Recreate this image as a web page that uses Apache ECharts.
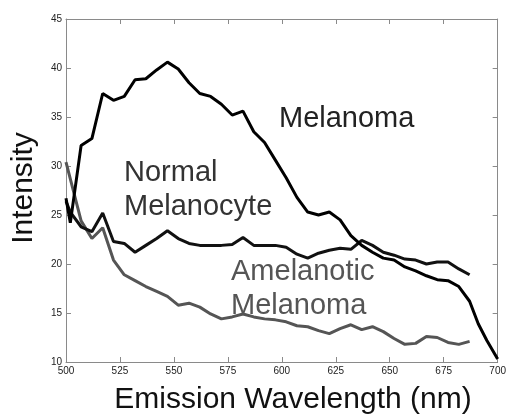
<!DOCTYPE html>
<html>
<head>
<meta charset="utf-8">
<script src="https://cdn.jsdelivr.net/npm/echarts@6/dist/echarts.min.js"></script>
<style>html,body{margin:0;padding:0;background:#fff;}#c{width:509px;height:414px;}</style>
</head>
<body>
<div id="c"></div>
<script>
// Data
const melanomaWl = [500,502,507,512,517,522,527,532,537,542,547,552,557,562,567,572,577,582,587,592,597,602,607,612,617,622,627,632,637,642,647,652,657,662,667,672,677,682,687,691,695,700];
const melanomaVals = [26.7,24.2,32.1,32.8,37.4,36.7,37.1,38.8,38.9,39.8,40.6,39.9,38.5,37.4,37.1,36.3,35.2,35.6,33.5,32.4,30.6,28.8,26.8,25.3,25.0,25.3,24.5,22.9,21.9,21.2,20.6,20.4,19.7,19.3,18.8,18.4,18.3,17.7,16.2,13.9,12.2,10.3];

const normalWl = [500,502,507,512,517,522,527,532,537,542,547,552,557,562,567,572,577,582,587,592,597,602,607,612,617,622,627,632,637,642,647,652,657,662,667,672,677,682,687];
const normalVals = [26.4,25.3,23.8,23.3,25.2,22.3,22.1,21.2,21.9,22.6,23.4,22.6,22.1,21.9,21.9,21.9,22.0,22.7,21.9,21.9,21.9,21.7,21.0,20.6,21.1,21.4,21.6,21.5,22.4,21.9,21.2,20.9,20.5,20.4,20.0,20.2,20.2,19.5,18.9];

const amelanoticWl = [500,507,512,517,522,527,532,537,542,547,552,557,562,567,572,577,582,587,592,597,602,607,612,617,622,627,632,637,642,647,652,657,662,667,672,677,682,687];
const amelanoticVals = [30.4,24.4,22.6,23.7,20.4,18.9,18.3,17.7,17.2,16.7,15.8,16.0,15.6,14.9,14.4,14.6,14.9,14.6,14.4,14.3,14.1,13.7,13.6,13.2,12.9,13.4,13.8,13.3,13.6,13.1,12.4,11.8,11.9,12.6,12.5,12.0,11.8,12.1];

const xTicks = [500,525,550,575,600,625,650,675,700];
const yTicks = [10,15,20,25,30,35,40,45];

const seriesNames = ['Melanoma','Normal Melanocyte','Amelanotic Melanoma'];

function pairs(xs, ys){ return xs.map((x,i)=>[x, ys[i]]); }

const chart = echarts.init(document.getElementById('c'), null, {renderer:'canvas'});
const FONT = 'Liberation Sans, Arial, sans-serif';
const axisGray = '#8a8a8a';

const baseX = {
  type:'value', min:xTicks[0], max:xTicks[xTicks.length-1], interval:25,
  axisLine:{show:true, lineStyle:{color:axisGray, width:1}},
  axisTick:{show:true, inside:true, length:5, lineStyle:{color:axisGray}},
  splitLine:{show:false}
};
const baseY = {
  type:'value', min:yTicks[0], max:yTicks[yTicks.length-1], interval:5,
  axisLine:{show:true, lineStyle:{color:axisGray, width:1}},
  axisTick:{show:true, inside:true, length:5, lineStyle:{color:axisGray}},
  splitLine:{show:false}
};

chart.setOption({
  animation:false,
  backgroundColor:'#fff',
  grid:{left:66, right:9, top:19, bottom:52, containLabel:false},
  xAxis:[
    Object.assign({}, baseX, {position:'bottom',
      axisLabel:{show:true, color:'#222', fontSize:10, fontFamily:FONT, margin:4, showMinLabel:true, showMaxLabel:true}}),
    Object.assign({}, baseX, {position:'top', axisLabel:{show:false}})
  ],
  yAxis:[
    Object.assign({}, baseY, {position:'left',
      axisLabel:{show:true, color:'#222', fontSize:10, fontFamily:FONT, margin:4, showMinLabel:true, showMaxLabel:true}}),
    Object.assign({}, baseY, {position:'right', axisLabel:{show:false}})
  ],
  series:[
    {name:seriesNames[0], type:'line', data:pairs(melanomaWl, melanomaVals), showSymbol:false, symbol:'none',
     lineStyle:{color:'#000', width:3}, z:3},
    {name:seriesNames[1], type:'line', data:pairs(normalWl, normalVals), showSymbol:false, symbol:'none',
     lineStyle:{color:'#111', width:3}, z:2},
    {name:seriesNames[2], type:'line', data:pairs(amelanoticWl, amelanoticVals), showSymbol:false, symbol:'none',
     lineStyle:{color:'#555', width:3}, z:1}
  ],
  graphic:[
    {type:'text', left:279, top:104, style:{text:'Melanoma', fill:'#222', font:'29px '+FONT}},
    {type:'text', left:124, top:156, style:{text:'Normal\nMelanocyte', fill:'#333', font:'29px '+FONT, lineHeight:34}},
    {type:'text', left:231, top:255, style:{text:'Amelanotic\nMelanoma', fill:'#555', font:'29px '+FONT, lineHeight:34}},
    {type:'text', x:24, y:188, rotation:Math.PI/2, style:{text:'Intensity', fill:'#111', font:'30px '+FONT, align:'center', verticalAlign:'middle'}},
    {type:'text', x:293, y:400, style:{text:'Emission Wavelength (nm)', fill:'#111', font:'30px '+FONT, align:'center', verticalAlign:'middle'}}
  ]
});
</script>
</body>
</html>
